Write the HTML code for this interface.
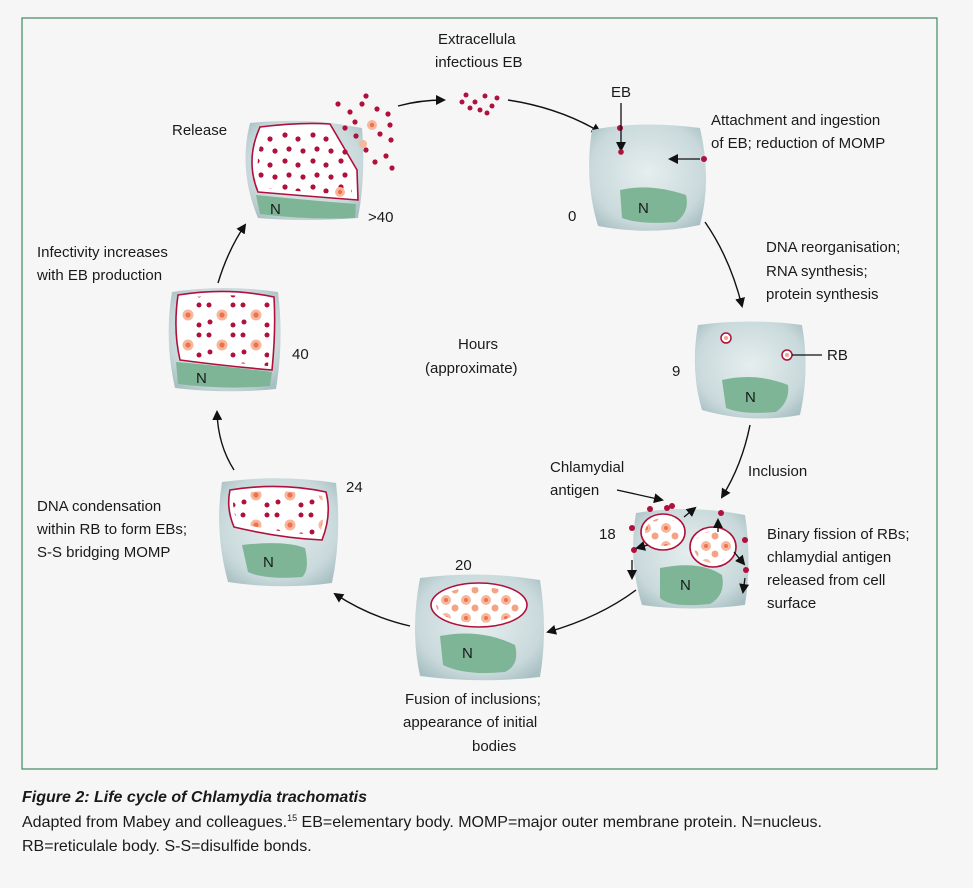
<!DOCTYPE html>
<html><head><meta charset="utf-8"><style>
body{margin:0;background:#f6f6f6;}
svg{display:block;font-family:"Liberation Sans",sans-serif;}
text{fill:#1a1a1a;font-size:15px;}
</style></head><body>
<svg width="973" height="888" viewBox="0 0 973 888" xmlns="http://www.w3.org/2000/svg">
<defs>
<radialGradient id="cg" cx="50%" cy="45%" r="65%"><stop offset="0" stop-color="#e6eeef"/><stop offset="0.75" stop-color="#c9d9db"/><stop offset="1" stop-color="#a9c0c3"/></radialGradient>
<pattern id="eb" width="28" height="26" patternUnits="userSpaceOnUse">
<circle cx="5" cy="5" r="2.6" fill="#b0103c"/><circle cx="18" cy="9" r="2.6" fill="#b0103c"/><circle cx="9" cy="19" r="2.6" fill="#b0103c"/><circle cx="23" cy="21" r="2.6" fill="#b0103c"/></pattern>
<pattern id="ebs" width="34" height="30" patternUnits="userSpaceOnUse">
<circle cx="5" cy="5" r="2.5" fill="#b0103c"/><circle cx="18" cy="15" r="5.5" fill="#f7b79b"/><circle cx="18" cy="15" r="2.6" fill="#ee7050"/><circle cx="29" cy="5" r="2.5" fill="#b0103c"/><circle cx="6" cy="22" r="2.5" fill="#b0103c"/><circle cx="29" cy="25" r="2.5" fill="#b0103c"/></pattern>
<pattern id="rb" width="20" height="18" patternUnits="userSpaceOnUse">
<circle cx="6" cy="6" r="5" fill="#f7b79b"/><circle cx="6" cy="6" r="2" fill="#ee7050"/><circle cx="15" cy="14" r="3.5" fill="#f5a385"/></pattern>
<marker id="ah" markerWidth="10" markerHeight="10" refX="8" refY="5" orient="auto" markerUnits="userSpaceOnUse"><path d="M0,0 L10,5 L0,10 z" fill="#111"/></marker>
</defs>
<rect x="22" y="18" width="915" height="751" fill="#f6f6f6" stroke="#3f8a5f" stroke-width="1.2"/>

<g fill="none" stroke="#111" stroke-width="1.4" marker-end="url(#ah)">
<path d="M398,106 Q420,100 444,100"/>
<path d="M508,100 Q560,108 600,132"/>
<path d="M705,222 Q730,258 742,306"/>
<path d="M750,425 Q742,465 722,497"/>
<path d="M636,590 Q600,617 548,632"/>
<path d="M410,626 Q370,617 335,594"/>
<path d="M234,470 Q218,445 217,412"/>
<path d="M218,283 Q228,250 245,225"/>
</g>

<g fill="#b0103c"><circle cx="466" cy="95" r="2.5"/><circle cx="475" cy="102" r="2.5"/><circle cx="485" cy="96" r="2.5"/><circle cx="492" cy="106" r="2.5"/><circle cx="480" cy="110" r="2.5"/><circle cx="470" cy="108" r="2.5"/><circle cx="497" cy="98" r="2.5"/><circle cx="487" cy="113" r="2.5"/><circle cx="462" cy="102" r="2.5"/></g>

<!-- Cell 0 -->
<path d="M592,130 Q640,120 700,128 Q712,180 700,225 Q650,236 598,226 Q584,180 592,130z" fill="url(#cg)"/>
<path d="M620,190 Q650,183 686,195 Q690,212 676,222 Q640,225 622,218z" fill="#7fb597"/>
<text x="638" y="213">N</text>
<circle cx="620" cy="128" r="3" fill="#b0103c"/><circle cx="704" cy="159" r="3" fill="#b0103c"/>
<line x1="621" y1="103" x2="621" y2="150" stroke="#111" stroke-width="1.3" marker-end="url(#ah)"/>
<line x1="700" y1="159" x2="670" y2="159" stroke="#111" stroke-width="1.3" marker-end="url(#ah)"/>
<circle cx="621" cy="152" r="2.8" fill="#b0103c"/>
<text x="611" y="97">EB</text>
<text x="568" y="221">0</text>
<text x="711" y="125">Attachment and ingestion</text>
<text x="711" y="148">of EB; reduction of MOMP</text>
<text x="438" y="44">Extracellula</text>
<text x="435" y="67">infectious EB</text>

<!-- Cell 9 -->
<path d="M698,325 Q750,318 802,325 Q810,370 800,415 Q750,424 702,410 Q690,370 698,325z" fill="url(#cg)"/>
<path d="M722,380 Q755,372 788,385 Q790,402 776,412 Q742,415 726,408z" fill="#7fb597"/>
<text x="745" y="402">N</text>
<circle cx="726" cy="338" r="5" fill="#fff" stroke="#b0103c" stroke-width="1.5"/><circle cx="726" cy="338" r="2" fill="#f5a385"/>
<circle cx="787" cy="355" r="5" fill="#fff" stroke="#b0103c" stroke-width="1.5"/><circle cx="787" cy="355" r="2" fill="#f5a385"/>
<line x1="792" y1="355" x2="822" y2="355" stroke="#111" stroke-width="1.2"/>
<text x="827" y="360">RB</text>
<text x="672" y="376">9</text>
<text x="766" y="252">DNA reorganisation;</text>
<text x="766" y="276">RNA synthesis;</text>
<text x="766" y="299">protein synthesis</text>

<!-- Cell 18 -->
<path d="M636,513 Q690,504 745,515 Q752,560 745,605 Q690,612 642,605 Q628,560 636,513z" fill="url(#cg)"/>
<path d="M660,568 Q700,560 722,575 Q726,595 710,604 Q670,608 660,598z" fill="#7fb597"/>
<text x="680" y="590">N</text>
<ellipse cx="663" cy="532" rx="22" ry="18" fill="#fff" stroke="#b0103c" stroke-width="1.6"/>
<ellipse cx="663" cy="532" rx="18" ry="14" fill="url(#rb)"/>
<ellipse cx="713" cy="547" rx="23" ry="20" fill="#fff" stroke="#b0103c" stroke-width="1.6"/>
<ellipse cx="713" cy="547" rx="19" ry="16" fill="url(#rb)"/>
<g fill="#b0103c"><circle cx="667" cy="508" r="3"/><circle cx="672" cy="506" r="3"/><circle cx="650" cy="509" r="3"/><circle cx="721" cy="513" r="3"/><circle cx="632" cy="528" r="3"/><circle cx="634" cy="550" r="3"/><circle cx="745" cy="540" r="3"/><circle cx="746" cy="570" r="3"/></g>
<g stroke="#111" stroke-width="1.3" marker-end="url(#ah)">
<line x1="684" y1="517" x2="695" y2="508"/><line x1="648" y1="545" x2="637" y2="548"/><line x1="718" y1="532" x2="718" y2="520"/><line x1="734" y1="552" x2="744" y2="564"/><line x1="632" y1="560" x2="632" y2="578"/><line x1="745" y1="578" x2="743" y2="592"/>
<line x1="617" y1="490" x2="662" y2="500"/>
</g>
<text x="599" y="539">18</text>
<text x="550" y="472">Chlamydial</text>
<text x="550" y="495">antigen</text>
<text x="748" y="476">Inclusion</text>
<text x="767" y="539">Binary fission of RBs;</text>
<text x="767" y="562">chlamydial antigen</text>
<text x="767" y="585">released from cell</text>
<text x="767" y="608">surface</text>

<!-- Cell 20 -->
<path d="M420,578 Q480,570 540,580 Q548,630 540,677 Q480,684 420,676 Q410,630 420,578z" fill="url(#cg)"/>
<path d="M440,636 Q480,628 515,645 Q520,665 505,672 Q465,676 443,665z" fill="#7fb597"/>
<text x="462" y="658">N</text>
<ellipse cx="479" cy="605" rx="48" ry="22" fill="#fff" stroke="#b0103c" stroke-width="1.6"/>
<ellipse cx="479" cy="605" rx="43" ry="18" fill="url(#rb)"/>
<text x="455" y="570">20</text>
<text x="405" y="704">Fusion of inclusions;</text>
<text x="403" y="727">appearance of initial</text>
<text x="472" y="751">bodies</text>

<!-- Cell 24 -->
<path d="M222,482 Q280,474 336,483 Q342,535 332,583 Q280,590 228,582 Q214,530 222,482z" fill="url(#cg)"/>
<path d="M242,545 Q285,540 305,548 Q310,570 302,577 Q265,580 248,572z" fill="#7fb597"/>
<text x="263" y="567">N</text>
<path d="M230,490 Q280,482 326,492 Q332,515 322,540 Q280,538 234,527 Q226,508 230,490z" fill="#fff" stroke="#b0103c" stroke-width="1.6"/>
<path d="M234,494 Q280,487 322,496 Q327,515 319,535 Q280,533 238,523 Q231,508 234,494z" fill="url(#ebs)"/>
<text x="346" y="492">24</text>
<text x="37" y="511">DNA condensation</text>
<text x="37" y="534">within RB to form EBs;</text>
<text x="37" y="557">S-S bridging MOMP</text>

<!-- Cell 40 -->
<path d="M172,292 Q225,284 278,292 Q284,340 276,389 Q225,394 175,388 Q164,340 172,292z" fill="url(#cg)"/>
<path d="M176,362 Q225,366 272,372 L270,386 Q225,390 178,384z" fill="#7fb597"/>
<text x="196" y="383">N</text>
<path d="M178,295 Q228,287 274,297 Q276,330 272,370 Q225,366 180,360 Q173,330 178,295z" fill="#fff" stroke="#b0103c" stroke-width="1.6"/>
<path d="M182,299 Q228,291 270,300 Q272,330 268,366 Q225,362 184,356 Q177,330 182,299z" fill="url(#ebs)"/>
<text x="292" y="359">40</text>
<text x="37" y="257">Infectivity increases</text>
<text x="37" y="280">with EB production</text>

<!-- Release cell -->
<path d="M250,123 Q300,118 338,124 L362,128 Q366,175 358,218 Q305,222 258,218 Q238,170 250,123z" fill="url(#cg)"/>
<path d="M256,195 Q305,200 356,204 L355,218 Q305,220 260,214z" fill="#7fb597"/>
<text x="270" y="214">N</text>
<path d="M260,127 Q300,122 330,124 L357,170 L358,200 Q305,196 258,192 Q245,160 260,127z" fill="#fff" stroke="#b0103c" stroke-width="1.6"/>
<path d="M265,132 Q300,127 328,130 L352,170 L352,195 Q305,192 262,188 Q252,160 265,132z" fill="url(#eb)"/>
<g fill="#b0103c"><circle cx="338" cy="104" r="2.6"/><circle cx="350" cy="112" r="2.6"/><circle cx="362" cy="104" r="2.6"/><circle cx="366" cy="96" r="2.6"/><circle cx="377" cy="109" r="2.6"/><circle cx="388" cy="114" r="2.6"/><circle cx="345" cy="128" r="2.6"/><circle cx="356" cy="136" r="2.6"/><circle cx="380" cy="134" r="2.6"/><circle cx="391" cy="140" r="2.6"/><circle cx="366" cy="150" r="2.6"/><circle cx="386" cy="156" r="2.6"/><circle cx="375" cy="162" r="2.6"/><circle cx="392" cy="168" r="2.6"/><circle cx="345" cy="152" r="2.6"/><circle cx="390" cy="125" r="2.6"/><circle cx="355" cy="122" r="2.6"/></g>
<circle cx="372" cy="125" r="5" fill="#f7b79b"/><circle cx="372" cy="125" r="2.2" fill="#ee7050"/><circle cx="363" cy="144" r="4" fill="#f7b79b"/><circle cx="340" cy="192" r="5" fill="#f7b79b"/><circle cx="340" cy="192" r="2.2" fill="#ee7050"/>
<text x="368" y="222">&gt;40</text>
<text x="172" y="135">Release</text>

<text x="458" y="349">Hours</text>
<text x="425" y="373">(approximate)</text>

<text x="22" y="802" style="font-size:16px;font-weight:bold;font-style:italic">Figure 2: Life cycle of Chlamydia trachomatis</text>
<text x="22" y="827" style="font-size:16px">Adapted from Mabey and colleagues.<tspan style="font-size:9px" dy="-6">15</tspan><tspan dy="6"> EB=elementary body. MOMP=major outer membrane protein. N=nucleus.</tspan></text>
<text x="22" y="851" style="font-size:16px">RB=reticulale body. S-S=disulfide bonds.</text>
</svg>
</body></html>
